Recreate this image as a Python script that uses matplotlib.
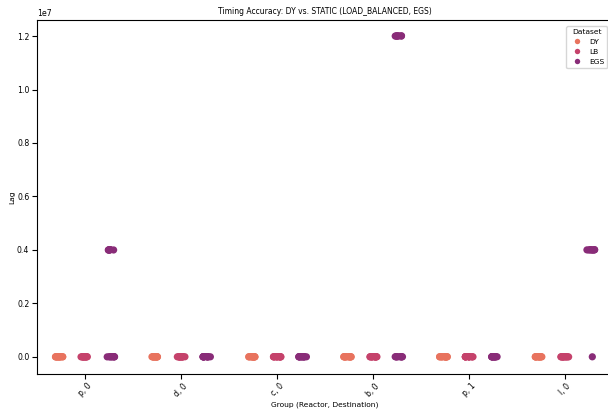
import numpy as np
import pandas as pd
import matplotlib
matplotlib.use("Agg")
import matplotlib.pyplot as plt
import seaborn as sns

# ---- data: lag per (reactor, destination) group, one list per group ----
groups = ["p, 0", "d, 0", "c, 0", "b, 0", "p, 1", "l, 0"]
datasets = ["DY", "LB", "EGS"]

dy_lags = [
    [1200, 3400, 800, 2500, 5100, 1900, 4300, 700, 2800, 3600, 1500, 2200, 3900, 900],
    [900, 2100, 4700, 1500, 3300, 600, 2600, 3900, 1800, 4100, 2900, 1300, 3500, 700],
    [1500, 2900, 700, 4200, 3100, 2200, 5300, 1100, 3700, 2400, 1900, 4600, 800, 3300],
    [2300, 1400, 3800, 900, 4600, 2700, 1700, 3200, 600, 5000, 2100, 4100, 1100, 3500],
    [1800, 3600, 1000, 4400, 2600, 700, 3000, 5200, 2000, 1300, 3800, 2400, 4800, 900],
    [2700, 800, 3500, 1600, 4900, 2300, 1200, 4000, 3100, 600, 2000, 4400, 1400, 3700],
]
lb_lags = [
    [2100, 4500, 1300, 3200, 6100, 2600, 800, 5400, 3700, 1700, 2900, 4100, 1000, 5000],
    [1600, 3800, 5600, 2400, 900, 4200, 3100, 1200, 4800, 2900, 2000, 3500, 5200, 700],
    [2500, 1100, 4900, 3400, 700, 5700, 2200, 3900, 1500, 4300, 2800, 1800, 5100, 3000],
    [3300, 1900, 5200, 1000, 4100, 2800, 6300, 1400, 3600, 2300, 4700, 1600, 3900, 2500],
    [1400, 4700, 2600, 5900, 800, 3500, 2100, 4400, 1700, 3000, 5300, 2300, 3800, 1100],
    [3900, 1500, 2800, 5100, 1000, 4600, 2400, 3300, 600, 5500, 2000, 4200, 1300, 3600],
]
egs_lags = [
    [3100, 6200, 1800, 4700, 2500, 5600, 3600, 1200, 5100, 2900,
     4003000, 3998000, 4010000, 4006000, 3995000, 4001000, 4008000, 3999000],
    [2800, 5300, 1400, 6700, 3900, 2200, 4600, 1100, 5900, 3300, 2500, 4200, 1700, 6100],
    [4100, 1900, 6500, 3000, 5200, 1300, 3700, 5800, 2400, 4800, 3400, 1600, 6000, 2700],
    [2600, 5000, 1700, 3800, 6100, 3400, 2200, 4500, 1200, 5500,
     12004000, 11998000, 12010000, 12006000, 11995000, 12001000, 12008000, 11999000],
    [3500, 1600, 5400, 2700, 6300, 4200, 1200, 4900, 3100, 5700, 2300, 4600, 1900, 3800],
    [3200, 4002000, 3997000, 4008000, 4005000, 4011000, 3994000, 4000000, 4006000, 3999000],
]

colors = ["#E8735E", "#C5426B", "#892C78"]

# ---- long-form table ----
rows = []
for name, series in zip(datasets, [dy_lags, lb_lags, egs_lags]):
    for g, vals in zip(groups, series):
        for v in vals:
            rows.append({"Group": g, "Dataset": name, "Lag": v})
df = pd.DataFrame(rows)

plt.rcParams.update({
    "font.family": "DejaVu Sans",
    "font.size": 5.4,
    "axes.titlesize": 5.5,
    "axes.labelsize": 5.4,
    "xtick.labelsize": 5.6,
    "ytick.labelsize": 5.6,
    "legend.fontsize": 5.4,
    "legend.title_fontsize": 5.4,
})

np.random.seed(3)

fig = plt.figure(figsize=(6.08, 4.09), dpi=100)
ax = fig.add_axes([37 / 608, 35 / 409, 576 / 608, 354 / 409])

sns.stripplot(
    data=df, x="Group", y="Lag", hue="Dataset",
    order=groups, hue_order=datasets, palette=colors,
    dodge=True, jitter=0.13, size=5.2, ax=ax,
)

ax.set_title("Timing Accuracy: DY vs. STATIC (LOAD_BALANCED, EGS)", pad=4)
ax.set_xlabel("Group (Reactor, Destination)", labelpad=2)
ax.set_ylabel("Lag", labelpad=1)
ax.tick_params(axis="x", labelrotation=45, pad=2)
ax.tick_params(axis="y", pad=2)
ax.set_ylim(-0.064e7, 1.26e7)
ax.set_xlim(-0.5, 5.5)

ax.legend(title="Dataset", loc="upper right", frameon=True, markerscale=0.75,
          borderaxespad=0.8, handletextpad=0.6)

fig.savefig("out.png", dpi=100)
